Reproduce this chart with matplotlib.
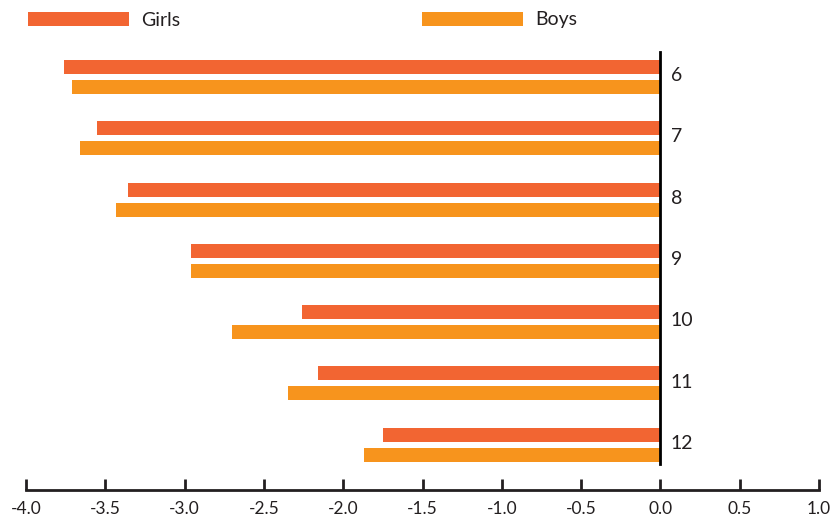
import matplotlib
matplotlib.use("Agg")
import matplotlib.pyplot as plt
import numpy as np

# change per year of age, by sex
ages = ["6", "7", "8", "9", "10", "11", "12"]
girls = [-3.76, -3.55, -3.36, -2.96, -2.26, -2.16, -1.75]
boys = [-3.71, -3.66, -3.43, -2.96, -2.70, -2.35, -1.87]
x_ticks = [-4.0, -3.5, -3.0, -2.5, -2.0, -1.5, -1.0, -0.5, 0.0, 0.5, 1.0]

GIRLS_COLOR = "#f26532"
BOYS_COLOR = "#f7941d"
TEXT_COLOR = "#231f20"

plt.rcParams["font.family"] = ["Lato", "DejaVu Sans"]
plt.rcParams["font.size"] = 12

fig = plt.figure(figsize=(8.35, 5.19), dpi=100)
ax = fig.add_axes([26 / 835, 1 - 490 / 519, 793 / 835, 438 / 519])

pos = np.arange(len(ages))
offset = 0.163
height = 0.228
ax.barh(pos - offset, girls, height=height, color=GIRLS_COLOR, label="Girls")
ax.barh(pos + offset, boys, height=height, color=BOYS_COLOR, label="Boys")

# zero reference line
ax.plot([0, 0], [-0.41, 6.31], color="black", linewidth=2, clip_on=False)

for i, age in enumerate(ages):
    ax.annotate(age, xy=(0, i), xytext=(7.5, 1.0), textcoords="offset points",
                ha="left", va="center", color=TEXT_COLOR, fontsize=14)

ax.set_xlim(-4.0, 1.0)
ax.set_ylim(6.74, -0.41)
ax.set_xticks(x_ticks)
ax.set_xticklabels([f"{t:.1f}" for t in x_ticks], color=TEXT_COLOR)
ax.set_yticks([])
for side in ("left", "top", "right"):
    ax.spines[side].set_visible(False)
ax.spines["bottom"].set_linewidth(2)
ax.spines["bottom"].set_color("#231f20")
ax.tick_params(axis="x", direction="in", length=8, width=2, pad=8,
               color="#231f20", labelsize=12.5)

leg = fig.legend(loc="upper left", bbox_to_anchor=(28 / 835, 1 - 11.5 / 519),
                 ncol=2, frameon=False, handlelength=5.2, handleheight=0.7,
                 handletextpad=0.6, columnspacing=12.45, borderpad=0,
                 borderaxespad=0, fontsize=14)
for t in leg.get_texts():
    t.set_color(TEXT_COLOR)

fig.savefig("out.png", dpi=100)
